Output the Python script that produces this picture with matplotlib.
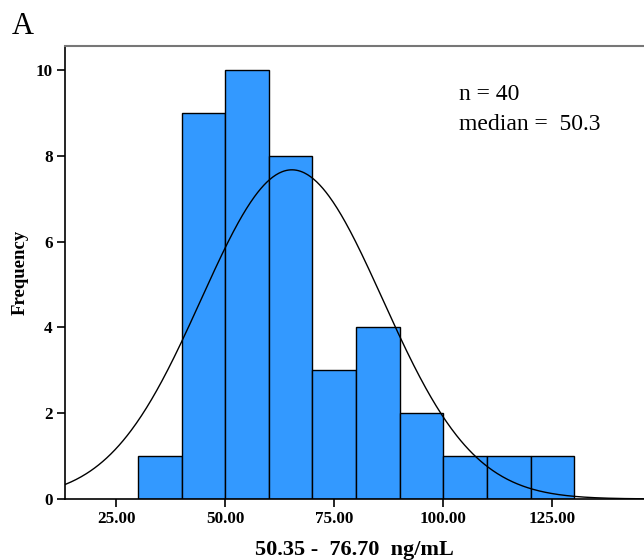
import numpy as np
import matplotlib
matplotlib.use("Agg")
import matplotlib.pyplot as plt

bin_edges = [30, 40, 50, 60, 70, 80, 90, 100, 110, 120, 130]
counts = [1, 9, 10, 8, 3, 4, 2, 1, 1, 1]
curve_mean = 65.3
curve_sd = 20.8
n_total = 40
xticks = [25, 50, 75, 100, 125]
xtick_labels = ["25.00", "50.00", "75.00", "100.00", "125.00"]
yticks = [0, 2, 4, 6, 8, 10]

plt.rcParams['font.family'] = ['Liberation Serif', 'DejaVu Serif']

fig = plt.figure(figsize=(6.44, 5.6), dpi=100)
ax = fig.add_axes([0.101, 0.109, 0.899, 0.809])

widths = np.diff(bin_edges)
ax.bar(bin_edges[:-1], counts, width=widths, align='edge', color='#3399ff',
       edgecolor='black', linewidth=1.0, zorder=2)

xs = np.linspace(10, 150, 600)
binw = widths[0]
ys = n_total * binw / (curve_sd * np.sqrt(2 * np.pi)) * np.exp(-0.5 * ((xs - curve_mean) / curve_sd) ** 2)
ax.plot(xs, ys, color='black', linewidth=1.0, zorder=3)

ax.set_xlim(13.3, 146)
ax.set_ylim(0, 10.56)
ax.set_xticks(xticks)
ax.set_xticklabels(xtick_labels, fontsize=12.3, fontweight='bold')
ax.set_yticks(yticks)
ax.set_yticklabels([str(v) for v in yticks], fontsize=12.3, fontweight='bold')
ax.tick_params(axis='both', direction='out', length=6, width=1.2, colors='black', pad=3)

ax.spines['right'].set_visible(False)
ax.spines['top'].set_color('#777777')
ax.spines['top'].set_linewidth(1.5)
ax.spines['left'].set_linewidth(1.2)
ax.spines['bottom'].set_linewidth(1.2)

ax.set_ylabel('Frequency', fontsize=13.5, fontweight='bold', labelpad=5)
ax.set_xlabel('50.35 -  76.70  ng/mL', fontsize=16, fontweight='bold', labelpad=9)

ax.text(0.680, 0.88, 'n = 40', transform=ax.transAxes, fontsize=17, va='baseline')
ax.text(0.680, 0.815, 'median =  50.3', transform=ax.transAxes, fontsize=17, va='baseline')

fig.text(0.018, 0.94, 'A', fontsize=22)

fig.savefig('out.png', dpi=100)
